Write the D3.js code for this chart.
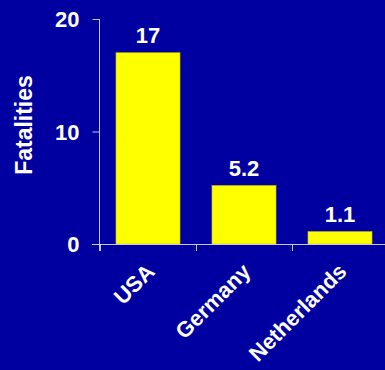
<!DOCTYPE html>
<html><head><meta charset="utf-8">
<script src="https://cdn.jsdelivr.net/npm/d3@7/dist/d3.min.js"></script>
<style>
html,body{margin:0;padding:0;background:#0000a0;}
svg{display:block;}
text{font-family:Arial,"Liberation Sans",sans-serif;font-weight:bold;fill:#fff;}
</style></head>
<body>
<svg id="chart" width="385" height="370"></svg>
<script>
const categories = ["USA", "Germany", "Netherlands"];
const values = [17, 5.2, 1.1];
const valueLabels = ["17", "5.2", "1.1"];
const yTicks = [0, 10, 20];
const yTitle = "Fatalities";

const svg = d3.select("#chart");
svg.append("rect").attr("width",385).attr("height",370).attr("fill","#0000a0");

const x = d3.scaleBand().domain(categories).range([100, 388]).paddingInner(1/3).paddingOuter(1/6);
const y = d3.scaleLinear().domain([0, 20]).range([244, 19]);

const axisColor = "#c8c8e0";

// bars
svg.selectAll("rect.bar").data(values).enter().append("rect")
  .attr("class","bar")
  .attr("x",(d,i)=>x(categories[i]))
  .attr("width",x.bandwidth())
  .attr("y",d=>y(d))
  .attr("height",d=>y(0)-y(d))
  .attr("fill","#ffff00")
  .attr("stroke","#c8c800").attr("stroke-width",0.6);

// y axis
const yAxis = svg.append("g").attr("transform","translate(99.5,0)")
  .call(d3.axisLeft(y).tickValues(yTicks).tickSize(7).tickPadding(13).tickFormat(d3.format("d")));
yAxis.select(".domain").remove();
yAxis.selectAll(".tick line").attr("stroke",axisColor);
yAxis.selectAll(".tick text").style("font-size","22px").attr("fill","#fff").attr("dy","0.36em");
svg.append("line").attr("x1",99.5).attr("x2",99.5).attr("y1",y(20)).attr("y2",251).attr("stroke",axisColor);

// x axis
svg.append("line").attr("x1",92).attr("x2",385).attr("y1",244.5).attr("y2",244.5).attr("stroke",axisColor);
const tickXs = categories.map(c=>x(c) - x.step()*x.paddingInner()/2);
svg.selectAll("line.xt").data(tickXs).enter().append("line")
  .attr("x1",d=>Math.round(d)+0.5).attr("x2",d=>Math.round(d)+0.5)
  .attr("y1",244).attr("y2",251).attr("stroke",axisColor);

// category labels
svg.selectAll("text.cat").data(categories).enter().append("text")
  .attr("class","cat")
  .attr("transform",d=>`translate(${x(d)+x.bandwidth()/2-3},${262}) rotate(-45)`)
  .attr("text-anchor","end")
  .attr("dy","0.7em")
  .style("font-size","22px")
  .text(d=>d);

// value labels
svg.selectAll("text.val").data(values).enter().append("text")
  .attr("class","val")
  .attr("x",(d,i)=>x(categories[i])+x.bandwidth()/2)
  .attr("y",d=>y(d)-10)
  .attr("text-anchor","middle")
  .style("font-size","22px")
  .text((d,i)=>valueLabels[i]);

// y title
svg.append("text")
  .attr("transform","translate(32,125) rotate(-90)")
  .attr("text-anchor","middle")
  .style("font-size","23px")
  .text(yTitle);
</script>
</body></html>
